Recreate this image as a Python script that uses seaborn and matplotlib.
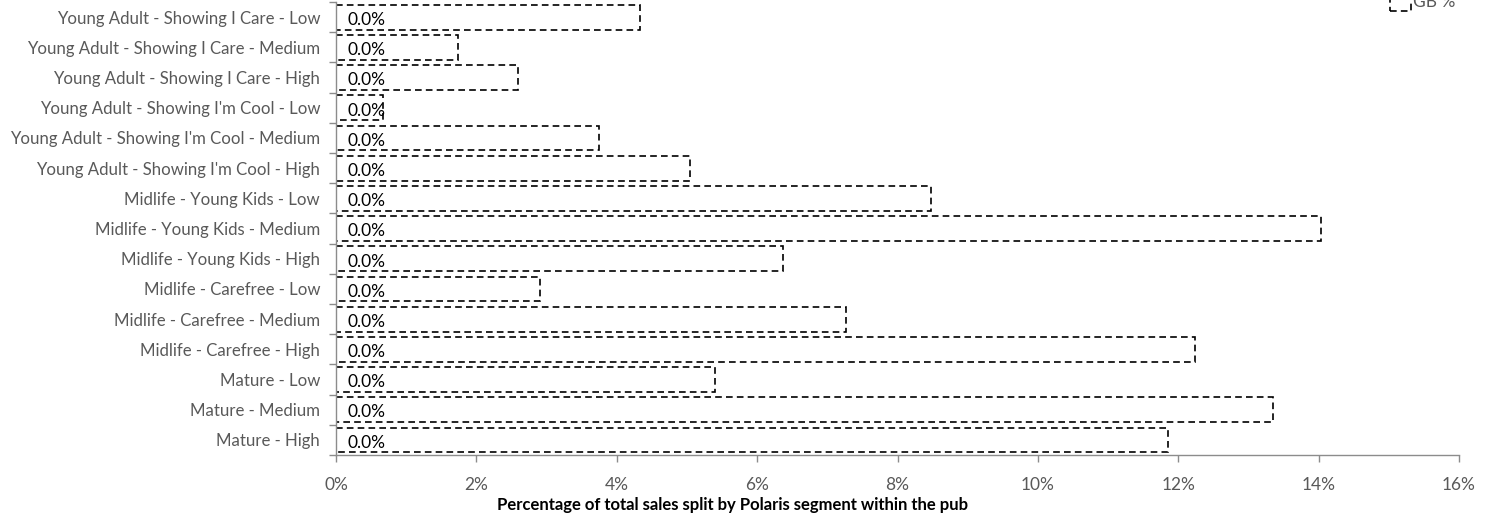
import matplotlib
matplotlib.use("Agg")
import matplotlib.pyplot as plt
import seaborn as sns
import pandas as pd
import numpy as np
from matplotlib.ticker import FixedLocator, PercentFormatter

segments = [
    "Young Adult - Showing I Care - Low",
    "Young Adult - Showing I Care - Medium",
    "Young Adult - Showing I Care - High",
    "Young Adult - Showing I'm Cool - Low",
    "Young Adult - Showing I'm Cool - Medium",
    "Young Adult - Showing I'm Cool - High",
    "Midlife - Young Kids - Low",
    "Midlife - Young Kids - Medium",
    "Midlife - Young Kids - High",
    "Midlife - Carefree - Low",
    "Midlife - Carefree - Medium",
    "Midlife - Carefree - High",
    "Mature - Low",
    "Mature - Medium",
    "Mature - High",
]
gb_pct = [4.33, 1.74, 2.59, 0.67, 3.75, 5.04, 8.48, 14.03, 6.37, 2.91, 7.26, 12.24, 5.40, 13.35, 11.85]
pub_pct = [0.0, 0.0, 0.0, 0.0, 0.0, 0.0, 0.0, 0.0, 0.0, 0.0, 0.0, 0.0, 0.0, 0.0, 0.0]

df = pd.DataFrame({"segment": segments, "gb": gb_pct, "pub": pub_pct})

sns.set_style("white")
plt.rcParams["font.family"] = ["Lato", "DejaVu Sans"]
GREY = "#595959"; AXIS = "#8c8c8c"
DASH = (0, (4, 2.5))

fig = plt.figure(figsize=(14.85, 5.19), dpi=100)
ax = fig.add_axes([0.2263, 0.1233, 0.7562, 0.8727])

sns.barplot(data=df, x="gb", y="segment", orient="h", fill=False, width=0.82,
            color="black", linewidth=1.2, ax=ax)
for p in ax.patches:
    p.set_linestyle(DASH)
    p.set_edgecolor("black")

# pub series (all zero) shown only through its data labels
for i, v in enumerate(df["pub"]):
    ax.annotate(f"{v:.1f}%", (v, i), xytext=(8, -2), textcoords="offset points",
                va="center", ha="left", fontsize=12.5, color="black")

ax.set_xlim(0, 16)
ax.set_ylim(len(segments) - 0.5, -0.5)
ax.xaxis.set_major_locator(FixedLocator(np.arange(0, 17, 2)))
ax.xaxis.set_major_formatter(PercentFormatter(decimals=0))
ax.tick_params(axis="x", bottom=True, colors=AXIS, labelcolor=GREY, labelsize=12.5,
               length=5, width=1, direction="out", pad=11)

ax.yaxis.set_major_locator(FixedLocator(np.arange(-0.5, len(segments), 1)))
ax.yaxis.set_major_formatter(plt.NullFormatter())
ax.yaxis.set_minor_locator(FixedLocator(np.arange(len(segments))))
ax.set_yticklabels(segments, minor=True)
ax.tick_params(axis="y", which="major", left=True, colors=AXIS, length=5, width=1)
ax.tick_params(axis="y", which="minor", left=True, length=0, labelcolor=GREY, labelsize=12.1, pad=11.5)

for s in ["top", "right"]:
    ax.spines[s].set_visible(False)
for s in ["left", "bottom"]:
    ax.spines[s].set_color(AXIS)
    ax.spines[s].set_linewidth(1)

ax.set_ylabel("")
ax.set_xlabel("Percentage of total sales split by Polaris segment within the pub",
              fontsize=12, fontweight="bold", color="black")
ax.xaxis.set_label_coords((732 - 336) / 1123, -0.093)

handles = [matplotlib.patches.Patch(facecolor="white", edgecolor="black", linestyle=DASH,
                                    linewidth=1.2, label="GB %")]
fig.legend(handles=handles, loc="upper left", bbox_to_anchor=(1390 / 1485, 1 + 8 / 519),
           frameon=False, fontsize=12.5, handlelength=1.2, handleheight=1.3,
           handletextpad=0.15, borderpad=0, borderaxespad=0, labelcolor=GREY)

fig.savefig("out.png", dpi=100)
